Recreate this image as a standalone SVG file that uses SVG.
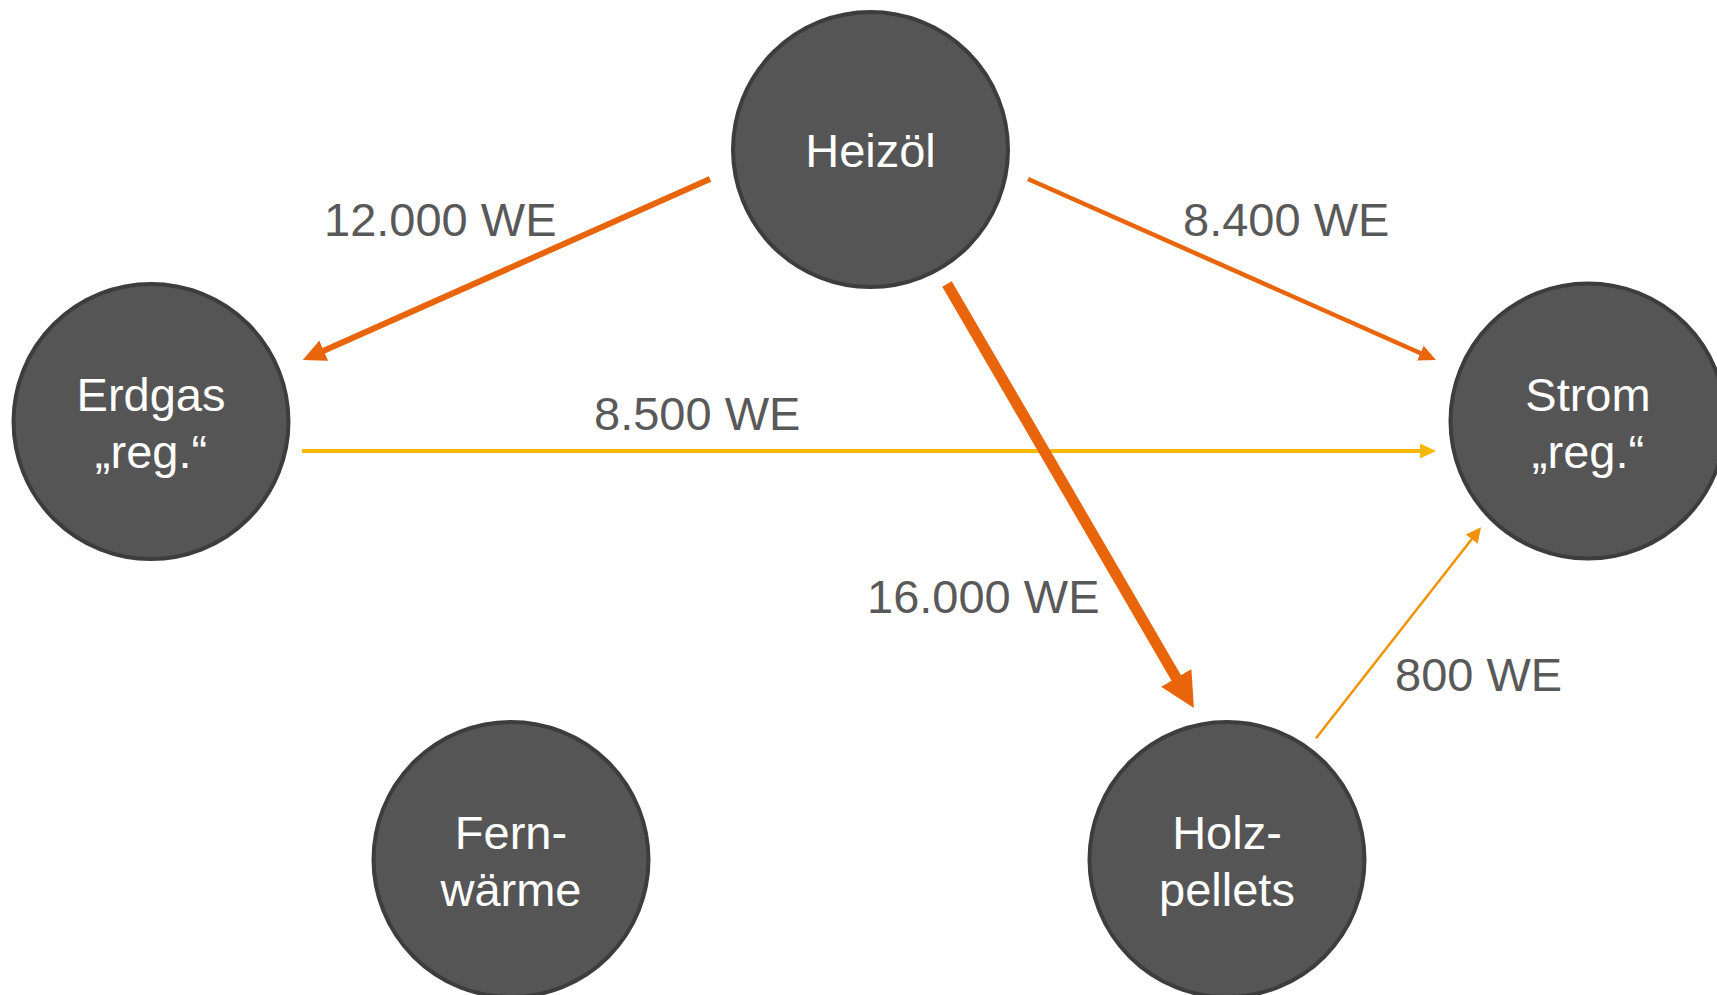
<svg xmlns="http://www.w3.org/2000/svg" width="1717" height="995" viewBox="0 0 1717 995">
  <style>
    .node circle { fill: #555555; stroke: #3d3d3d; stroke-width: 4; }
    .node text { fill: #ffffff; font-family: "Liberation Sans", Arial, sans-serif; font-size: 47px; text-anchor: middle; }
    .label { fill: #595959; font-family: "Liberation Sans", Arial, sans-serif; font-size: 47px; }
    .edge { fill: none; stroke-linecap: butt; }
    .orange { stroke: #E9650B; }
    .yellow { stroke: #FAB800; }
    .amber { stroke: #F39200; }
  </style>
  <defs>
    <!-- arrowheads sized in user units; refX pulls the tip past the shortened line end -->
    <marker id="head-l" markerUnits="userSpaceOnUse" markerWidth="23" markerHeight="22" refX="5" refY="11" orient="auto">
      <path d="M0,0 L23,11 L0,22 Z" fill="#E9650B"/>
    </marker>
    <marker id="head-m" markerUnits="userSpaceOnUse" markerWidth="17" markerHeight="16" refX="4" refY="8" orient="auto">
      <path d="M0,0 L17,8 L0,16 Z" fill="#E9650B"/>
    </marker>
    <marker id="head-xl" markerUnits="userSpaceOnUse" markerWidth="35" markerHeight="35" refX="7" refY="17.5" orient="auto">
      <path d="M0,0 L35,17.5 L0,35 Z" fill="#E9650B"/>
    </marker>
    <marker id="head-y" markerUnits="userSpaceOnUse" markerWidth="16" markerHeight="15" refX="4" refY="7.5" orient="auto">
      <path d="M0,0 L16,7.5 L0,15 Z" fill="#FAB800"/>
    </marker>
    <marker id="head-a" markerUnits="userSpaceOnUse" markerWidth="15" markerHeight="15" refX="4" refY="7.5" orient="auto">
      <path d="M0,0 L15,7.5 L0,15 Z" fill="#F39200"/>
    </marker>
  </defs>

  <rect width="1717" height="995" fill="#ffffff"/>

  <!-- connectors -->
  <g id="connectors">
    <line class="edge orange" x1="710" y1="179" x2="319.2" y2="352.7" stroke-width="6" marker-end="url(#head-l)"/>
    <line class="edge orange" x1="1028" y1="179" x2="1424.1" y2="354.7" stroke-width="4.5" marker-end="url(#head-m)"/>
    <line class="edge yellow" x1="302" y1="451" x2="1424" y2="451" stroke-width="4" marker-end="url(#head-y)"/>
    <line class="edge orange" x1="947" y1="284" x2="1179.8" y2="683.9" stroke-width="11" marker-end="url(#head-xl)"/>
    <line class="edge amber" x1="1316" y1="738.3" x2="1474.2" y2="536" stroke-width="2.5" marker-end="url(#head-a)"/>

    <text class="label" x="324" y="236">12.000 WE</text>
    <text class="label" x="1183" y="236">8.400 WE</text>
    <text class="label" x="594" y="430">8.500 WE</text>
    <text class="label" x="867" y="613">16.000 WE</text>
    <text class="label" x="1395" y="691">800 WE</text>
  </g>

  <!-- nodes -->
  <g id="heizoel" class="node">
    <circle cx="870.5" cy="149.5" r="137.5"/>
    <text x="870.5" y="166.5">Heizöl</text>
  </g>
  <g id="erdgas" class="node">
    <circle cx="151" cy="421.5" r="137.5"/>
    <text x="151" y="411">Erdgas</text>
    <text x="151" y="468">„reg.“</text>
  </g>
  <g id="strom" class="node">
    <circle cx="1588" cy="421" r="137.5"/>
    <text x="1588" y="410.5">Strom</text>
    <text x="1588" y="467.5">„reg.“</text>
  </g>
  <g id="fernwaerme" class="node">
    <circle cx="511" cy="859.5" r="137.5"/>
    <text x="511" y="849">Fern-</text>
    <text x="511" y="906">wärme</text>
  </g>
  <g id="holzpellets" class="node">
    <circle cx="1227" cy="859.5" r="137.5"/>
    <text x="1227" y="849">Holz-</text>
    <text x="1227" y="906">pellets</text>
  </g>
</svg>
